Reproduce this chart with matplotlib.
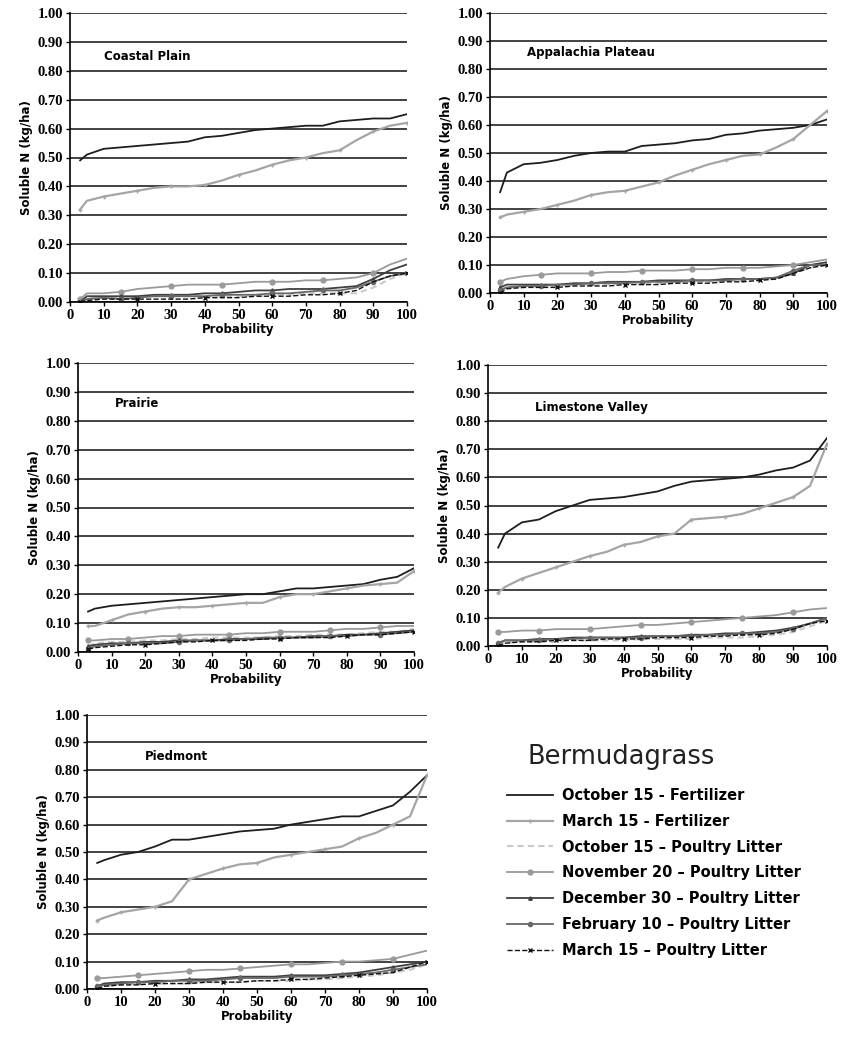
import matplotlib
matplotlib.use('Agg')
import matplotlib.pyplot as plt
from matplotlib.lines import Line2D
import numpy as np

# probability points (shared by all series)
prob = [3, 5, 10, 15, 20, 25, 30, 35, 40, 45, 50, 55, 60, 65, 70, 75, 80, 85, 90, 95, 100]

series_names = ['October 15 - Fertilizer', 'March 15 - Fertilizer',
                'October 15 \u2013 Poultry Litter', 'November 20 \u2013 Poultry Litter',
                'December 30 \u2013 Poultry Litter', 'February 10 \u2013 Poultry Litter',
                'March 15 \u2013 Poultry Litter']

# Coastal Plain
cp_oct_fert = [0.49, 0.51, 0.53, 0.535, 0.54, 0.545, 0.55, 0.555, 0.57, 0.575, 0.585, 0.595, 0.60, 0.605, 0.61, 0.61, 0.625, 0.63, 0.635, 0.635, 0.65]
cp_mar_fert = [0.32, 0.35, 0.365, 0.375, 0.385, 0.395, 0.40, 0.40, 0.405, 0.42, 0.44, 0.455, 0.475, 0.49, 0.50, 0.515, 0.525, 0.56, 0.59, 0.61, 0.62]
cp_oct_pl = [0.01, 0.015, 0.015, 0.015, 0.02, 0.02, 0.02, 0.02, 0.02, 0.02, 0.02, 0.02, 0.025, 0.025, 0.03, 0.03, 0.03, 0.03, 0.05, 0.08, 0.10]
cp_nov_pl = [0.01, 0.03, 0.03, 0.035, 0.045, 0.05, 0.055, 0.06, 0.06, 0.06, 0.065, 0.07, 0.07, 0.07, 0.075, 0.075, 0.08, 0.085, 0.10, 0.13, 0.15]
cp_dec_pl = [0.0, 0.02, 0.02, 0.02, 0.02, 0.025, 0.025, 0.025, 0.03, 0.03, 0.035, 0.04, 0.04, 0.045, 0.045, 0.045, 0.05, 0.055, 0.08, 0.11, 0.13]
cp_feb_pl = [0.0, 0.01, 0.015, 0.01, 0.015, 0.02, 0.02, 0.02, 0.02, 0.025, 0.025, 0.025, 0.03, 0.03, 0.035, 0.04, 0.04, 0.05, 0.07, 0.09, 0.10]
cp_mar_pl = [0.0, 0.005, 0.01, 0.01, 0.01, 0.01, 0.01, 0.01, 0.015, 0.015, 0.015, 0.02, 0.02, 0.02, 0.025, 0.025, 0.03, 0.04, 0.07, 0.09, 0.10]

# Appalachia Plateau
ap_oct_fert = [0.36, 0.43, 0.46, 0.465, 0.475, 0.49, 0.50, 0.505, 0.505, 0.525, 0.53, 0.535, 0.545, 0.55, 0.565, 0.57, 0.58, 0.585, 0.59, 0.60, 0.62]
ap_mar_fert = [0.27, 0.28, 0.29, 0.30, 0.315, 0.33, 0.35, 0.36, 0.365, 0.38, 0.395, 0.42, 0.44, 0.46, 0.475, 0.49, 0.495, 0.52, 0.55, 0.60, 0.65]
ap_oct_pl = [0.01, 0.02, 0.02, 0.025, 0.025, 0.03, 0.03, 0.03, 0.035, 0.035, 0.035, 0.04, 0.04, 0.04, 0.045, 0.045, 0.05, 0.05, 0.07, 0.09, 0.10]
ap_nov_pl = [0.04, 0.05, 0.06, 0.065, 0.07, 0.07, 0.07, 0.075, 0.075, 0.08, 0.08, 0.08, 0.085, 0.085, 0.09, 0.09, 0.09, 0.095, 0.10, 0.11, 0.12]
ap_dec_pl = [0.02, 0.03, 0.03, 0.03, 0.03, 0.035, 0.035, 0.04, 0.04, 0.04, 0.045, 0.045, 0.045, 0.045, 0.05, 0.05, 0.05, 0.055, 0.07, 0.10, 0.11]
ap_feb_pl = [0.01, 0.02, 0.025, 0.025, 0.03, 0.03, 0.035, 0.035, 0.035, 0.04, 0.04, 0.04, 0.045, 0.045, 0.045, 0.05, 0.05, 0.055, 0.08, 0.10, 0.10]
ap_mar_pl = [0.0, 0.015, 0.02, 0.02, 0.02, 0.025, 0.025, 0.025, 0.03, 0.03, 0.03, 0.035, 0.035, 0.035, 0.04, 0.04, 0.045, 0.05, 0.07, 0.09, 0.10]

# Prairie
pr_oct_fert = [0.14, 0.15, 0.16, 0.165, 0.17, 0.175, 0.18, 0.185, 0.19, 0.195, 0.20, 0.20, 0.21, 0.22, 0.22, 0.225, 0.23, 0.235, 0.25, 0.26, 0.29]
pr_mar_fert = [0.09, 0.09, 0.11, 0.13, 0.14, 0.15, 0.155, 0.155, 0.16, 0.165, 0.17, 0.17, 0.19, 0.20, 0.20, 0.21, 0.22, 0.23, 0.235, 0.24, 0.28]
pr_oct_pl = [0.02, 0.03, 0.035, 0.035, 0.04, 0.04, 0.045, 0.045, 0.05, 0.05, 0.05, 0.05, 0.055, 0.055, 0.06, 0.06, 0.06, 0.065, 0.07, 0.07, 0.08]
pr_nov_pl = [0.04, 0.04, 0.045, 0.045, 0.05, 0.055, 0.055, 0.06, 0.06, 0.06, 0.065, 0.065, 0.07, 0.07, 0.07, 0.075, 0.08, 0.08, 0.085, 0.09, 0.09]
pr_dec_pl = [0.02, 0.025, 0.03, 0.03, 0.035, 0.035, 0.04, 0.04, 0.04, 0.045, 0.045, 0.045, 0.05, 0.05, 0.055, 0.055, 0.06, 0.06, 0.065, 0.07, 0.075]
pr_feb_pl = [0.01, 0.02, 0.025, 0.03, 0.03, 0.03, 0.035, 0.04, 0.04, 0.04, 0.045, 0.05, 0.05, 0.05, 0.05, 0.055, 0.055, 0.06, 0.06, 0.065, 0.07]
pr_mar_pl = [0.01, 0.015, 0.02, 0.025, 0.025, 0.03, 0.035, 0.035, 0.04, 0.04, 0.04, 0.045, 0.045, 0.05, 0.05, 0.05, 0.055, 0.06, 0.06, 0.065, 0.07]

# Limestone Valley
lv_oct_fert = [0.35, 0.40, 0.44, 0.45, 0.48, 0.50, 0.52, 0.525, 0.53, 0.54, 0.55, 0.57, 0.585, 0.59, 0.595, 0.60, 0.61, 0.625, 0.635, 0.66, 0.74]
lv_mar_fert = [0.19, 0.21, 0.24, 0.26, 0.28, 0.30, 0.32, 0.335, 0.36, 0.37, 0.39, 0.40, 0.45, 0.455, 0.46, 0.47, 0.49, 0.51, 0.53, 0.57, 0.72]
lv_oct_pl = [0.01, 0.01, 0.015, 0.015, 0.015, 0.02, 0.02, 0.02, 0.02, 0.025, 0.025, 0.025, 0.025, 0.03, 0.03, 0.03, 0.035, 0.04, 0.05, 0.07, 0.09]
lv_nov_pl = [0.05, 0.05, 0.055, 0.055, 0.06, 0.06, 0.06, 0.065, 0.07, 0.075, 0.075, 0.08, 0.085, 0.09, 0.095, 0.10, 0.105, 0.11, 0.12, 0.13, 0.135]
lv_dec_pl = [0.01, 0.02, 0.02, 0.025, 0.025, 0.03, 0.03, 0.03, 0.03, 0.035, 0.035, 0.035, 0.04, 0.04, 0.045, 0.045, 0.05, 0.055, 0.065, 0.08, 0.10]
lv_feb_pl = [0.01, 0.02, 0.02, 0.02, 0.025, 0.025, 0.03, 0.03, 0.03, 0.03, 0.035, 0.035, 0.035, 0.04, 0.04, 0.045, 0.045, 0.05, 0.06, 0.08, 0.10]
lv_mar_pl = [0.0, 0.01, 0.015, 0.015, 0.02, 0.02, 0.02, 0.025, 0.025, 0.025, 0.03, 0.03, 0.03, 0.035, 0.035, 0.04, 0.04, 0.045, 0.06, 0.08, 0.09]

# Piedmont
pi_oct_fert = [0.46, 0.47, 0.49, 0.50, 0.52, 0.545, 0.545, 0.555, 0.565, 0.575, 0.58, 0.585, 0.60, 0.61, 0.62, 0.63, 0.63, 0.65, 0.67, 0.72, 0.78]
pi_mar_fert = [0.25, 0.26, 0.28, 0.29, 0.30, 0.32, 0.40, 0.42, 0.44, 0.455, 0.46, 0.48, 0.49, 0.50, 0.51, 0.52, 0.55, 0.57, 0.60, 0.63, 0.78]
pi_oct_pl = [0.01, 0.01, 0.015, 0.02, 0.02, 0.02, 0.02, 0.025, 0.025, 0.025, 0.03, 0.03, 0.03, 0.035, 0.035, 0.04, 0.045, 0.05, 0.06, 0.07, 0.09]
pi_nov_pl = [0.04, 0.04, 0.045, 0.05, 0.055, 0.06, 0.065, 0.07, 0.07, 0.075, 0.08, 0.085, 0.09, 0.09, 0.095, 0.10, 0.10, 0.105, 0.11, 0.125, 0.14]
pi_dec_pl = [0.01, 0.02, 0.025, 0.025, 0.03, 0.03, 0.035, 0.035, 0.04, 0.045, 0.045, 0.045, 0.05, 0.05, 0.05, 0.055, 0.06, 0.07, 0.08, 0.09, 0.10]
pi_feb_pl = [0.01, 0.015, 0.02, 0.025, 0.025, 0.03, 0.03, 0.03, 0.035, 0.04, 0.04, 0.04, 0.045, 0.045, 0.045, 0.05, 0.055, 0.06, 0.07, 0.08, 0.09]
pi_mar_pl = [0.0, 0.01, 0.015, 0.015, 0.02, 0.02, 0.02, 0.025, 0.025, 0.025, 0.03, 0.03, 0.035, 0.035, 0.04, 0.045, 0.05, 0.055, 0.06, 0.08, 0.10]

panel_titles = ['Coastal Plain', 'Appalachia Plateau', 'Prairie', 'Limestone Valley', 'Piedmont']
panel_data = [
    [cp_oct_fert, cp_mar_fert, cp_oct_pl, cp_nov_pl, cp_dec_pl, cp_feb_pl, cp_mar_pl],
    [ap_oct_fert, ap_mar_fert, ap_oct_pl, ap_nov_pl, ap_dec_pl, ap_feb_pl, ap_mar_pl],
    [pr_oct_fert, pr_mar_fert, pr_oct_pl, pr_nov_pl, pr_dec_pl, pr_feb_pl, pr_mar_pl],
    [lv_oct_fert, lv_mar_fert, lv_oct_pl, lv_nov_pl, lv_dec_pl, lv_feb_pl, lv_mar_pl],
    [pi_oct_fert, pi_mar_fert, pi_oct_pl, pi_nov_pl, pi_dec_pl, pi_feb_pl, pi_mar_pl],
]

# line styles for the 7 series
styles = [
    dict(color='#1e1e1e', lw=1.3, ls='-'),
    dict(color='#a5a5a5', lw=1.6, ls='-', marker='+', ms=3, markevery=2),
    dict(color='#c9c9c9', lw=1.5, ls=(0, (3, 2))),
    dict(color='#9a9a9a', lw=1.3, ls='-', marker='o', ms=3.5, markevery=3),
    dict(color='#404040', lw=1.3, ls='-', marker='^', ms=2.5, markevery=3),
    dict(color='#686868', lw=1.3, ls='-', marker='o', ms=3, markevery=3),
    dict(color='#111111', lw=1.0, ls='--', marker='x', ms=3.5, markevery=4),
]

W, H = 842, 1039
# axes boxes in pixels: left, right, top (y=1.0), bottom (y=0.0)
boxes = [(70, 407, 13, 302), (490, 827, 13, 293), (78, 414, 363, 652),
         (488, 827, 365, 646), (87, 427, 715, 989)]
title_pos = [(10, 0.85), (11, 0.86), (11, 0.86), (14, 0.85), (17, 0.85)]

fig = plt.figure(figsize=(W / 100., H / 100.), dpi=100)

tickfont = dict(family='Liberation Serif', weight='bold', size=10.5)

for (l, r, t, b), title, tp, data in zip(boxes, panel_titles, title_pos, panel_data):
    ax = fig.add_axes([l / W, 1 - b / H, (r - l) / W, (b - t) / H])
    for vals, st in zip(data, styles):
        ax.plot(prob, vals, **st)
    ax.set_xlim(0, 100)
    ax.set_ylim(0, 1.0)
    ax.set_yticks(np.arange(0, 1.01, 0.1))
    ax.set_yticklabels(['%.2f' % v for v in np.arange(0, 1.01, 0.1)], fontdict=tickfont)
    ax.set_xticks(range(0, 101, 10))
    ax.set_xticklabels([str(v) for v in range(0, 101, 10)], fontdict=tickfont)
    ax.yaxis.grid(True, color='#222222', lw=1.2)
    ax.set_axisbelow(True)
    for s in ['top', 'right']:
        ax.spines[s].set_visible(False)
    ax.spines['left'].set_linewidth(1.2)
    ax.spines['bottom'].set_linewidth(1.2)
    ax.tick_params(length=3, width=1, pad=2)
    ax.set_ylabel('Soluble N (kg/ha)', fontsize=8.5, weight='bold', labelpad=3)
    ax.set_xlabel('Probability', fontsize=8.5, weight='bold', labelpad=1)
    ax.text(tp[0], tp[1], title, fontsize=8.5, weight='bold', va='center')

# legend
fig.text(527 / W, 1 - 757 / H, 'Bermudagrass', fontsize=18.5, va='center', color='#222222')
handles = [Line2D([], [], **{k: v for k, v in st.items() if k != 'markevery'}) for st in styles]
fig.legend(handles, series_names, loc='upper left', bbox_to_anchor=(507 / W, 1 - 788 / H),
           frameon=False, prop=dict(size=10.5, weight='bold'), handlelength=3.15,
           handletextpad=0.6, labelspacing=0.74, borderpad=0, borderaxespad=0)

fig.savefig('out.png', dpi=100)
